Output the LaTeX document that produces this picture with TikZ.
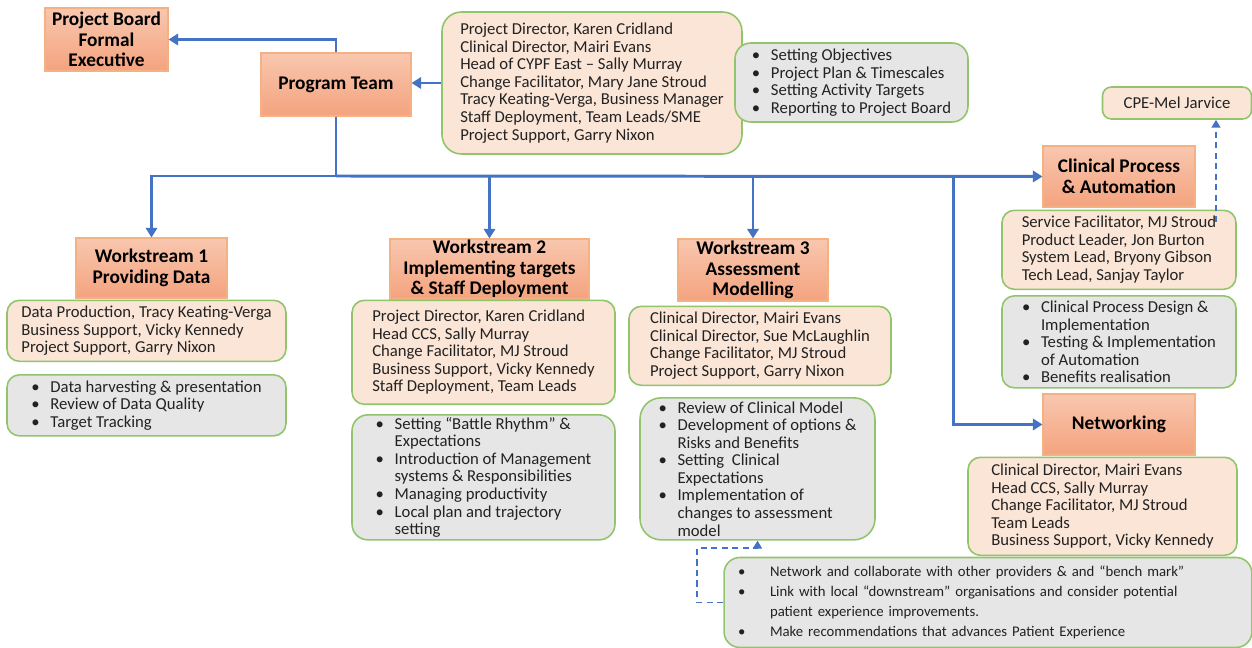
\documentclass[tikz,border=0pt]{standalone}
\usepackage{fontspec}
\setmainfont{Carlito}
\usetikzlibrary{arrows.meta, positioning}
\definecolor{linkblue}{RGB}{68,114,196}
\definecolor{headtop}{RGB}{248,199,175}
\definecolor{headbot}{RGB}{244,163,126}
\definecolor{headline}{RGB}{244,177,131}
\definecolor{staffpeach}{RGB}{251,229,214}
\definecolor{taskgray}{RGB}{231,230,230}
\definecolor{boxgreen}{RGB}{146,196,108}
\definecolor{inkgray}{RGB}{34,34,34}
\newcommand{\tbul}[1][0.38cm]{\makebox[#1][l]{\textbullet}\ignorespaces}
\newcommand{\tcont}[1][0.38cm]{\hspace*{#1}\ignorespaces}

\begin{document}
\begin{tikzpicture}[
    x=0.02cm, y=-0.02cm,
    head/.style={rectangle, draw=headline, top color=headtop, bottom color=headbot,
                 line width=0.6pt, text=black, inner ysep=0pt,
                 font=\fontsize{11}{11.8}\selectfont\bfseries, align=center},
    staff/.style={rectangle, rounded corners=7pt, draw=boxgreen, fill=staffpeach,
                  line width=0.9pt, text=inkgray, inner ysep=1pt,
                  font=\fontsize{9.5}{10}\selectfont, align=left},
    tasks/.style={staff, fill=taskgray},
    arrow/.style={-{Triangle[length=5.5pt, width=6.5pt]}, line width=1.7pt, draw=linkblue},
    dasharrow/.style={-{Triangle[length=4.5pt, width=5pt]}, line width=1.1pt,
                      draw=linkblue, dash pattern=on 3.5pt off 2.5pt}
]
    \useasboundingbox (0,0) rectangle (1252,648);

    % Top - board and program team
    \node[head, minimum width=2.46cm, minimum height=1.26cm] (board) at (106.5,39.5) {Project Board\\Formal\\Executive};
    \node[head, minimum width=3cm, minimum height=1.26cm] (progteam) at (336,84.5) {Program Team};
    \node[staff, rounded corners=11pt, minimum width=6cm, minimum height=2.84cm] (teambox) at (592,83)
        {Project Director, Karen Cridland\\Clinical Director, Mairi Evans\\Head of CYPF East – Sally Murray\\Change Facilitator, Mary Jane Stroud\\Tracy Keating-Verga, Business Manager\\Staff Deployment, Team Leads/SME\\Project Support, Garry Nixon};
    \node[tasks, rounded corners=9pt, minimum width=4.66cm, minimum height=1.58cm] (objectives) at (851.5,82.5)
        {\tbul Setting Objectives\\\tbul Project Plan \& Timescales\\\tbul Setting Activity Targets\\\tbul Reporting to Project Board};

    % Workstream 1
    \node[head, minimum width=3.02cm, minimum height=1.2cm] (ws1) at (151.5,268) {Workstream 1\\Providing Data};
    \node[staff, minimum width=5.58cm, minimum height=1.22cm, below=0.02cm of ws1, xshift=-0.1cm] (ws1staff)
        {Data Production, Tracy Keating-Verga\\Business Support, Vicky Kennedy\\Project Support, Garry Nixon};
    \node[tasks, minimum width=5.58cm, minimum height=1.22cm, below=0.24cm of ws1staff] (ws1tasks)
        {\tbul Data harvesting \& presentation\\\tbul Review of Data Quality\\\tbul Target Tracking};

    % Workstream 2
    \node[head, minimum width=3.98cm, minimum height=1.2cm] (ws2) at (489.5,269) {Workstream 2\\Implementing targets\\\& Staff Deployment};
    \node[staff, minimum width=5.26cm, minimum height=2.08cm, below=0cm of ws2, xshift=-0.12cm] (ws2staff)
        {Project Director, Karen Cridland\\Head CCS, Sally Murray\\Change Facilitator, MJ Stroud\\Business Support, Vicky Kennedy\\Staff Deployment, Team Leads};
    \node[tasks, rounded corners=9pt, minimum width=5.26cm, minimum height=2.5cm, below=0.18cm of ws2staff] (ws2tasks)
        {\tbul Setting “Battle Rhythm” \&\\\tcont Expectations\\\tbul Introduction of Management\\\tcont systems \& Responsibilities\\\tbul Managing productivity\\\tbul Local plan and trajectory\\\tcont setting};

    % Workstream 3
    \node[head, minimum width=3cm, minimum height=1.24cm] (ws3) at (753,270) {Workstream 3\\Assessment\\Modelling};
    \node[staff, minimum width=5.24cm, minimum height=1.58cm, below=0.08cm of ws3, xshift=0.14cm] (ws3staff)
        {Clinical Director, Mairi Evans\\Clinical Director, Sue McLaughlin\\Change Facilitator, MJ Stroud\\Project Support, Garry Nixon};
    \node[tasks, rounded corners=12pt, minimum width=4.7cm, minimum height=2.84cm, below=0.22cm of ws3staff, xshift=-0.05cm] (ws3tasks)
        {\tbul Review of Clinical Model\\\tbul Development of options \&\\\tcont Risks and Benefits\\\tbul Setting\ \ Clinical\\\tcont Expectations\\\tbul Implementation of\\\tcont changes to assessment\\\tcont model};

    % Clinical process
    \node[staff, rounded corners=5pt, minimum width=2.98cm, minimum height=0.64cm] (cpe) at (1177,103) {CPE-Mel Jarvice};
    \node[head, minimum width=3.04cm, minimum height=1.22cm] (cphead) at (1119,176.5) {Clinical Process\\\& Automation};
    \node[staff, minimum width=4.68cm, minimum height=1.58cm, below=0.04cm of cphead] (cpstaff)
        {Service Facilitator, MJ Stroud\\Product Leader, Jon Burton\\System Lead, Bryony Gibson\\Tech Lead, Sanjay Taylor};
    \node[tasks, minimum width=4.68cm, minimum height=1.84cm, below=0.1cm of cpstaff] (cptasks)
        {\tbul Clinical Process Design \&\\\tcont Implementation\\\tbul Testing \& Implementation\\\tcont of Automation\\\tbul Benefits realisation};

    % Networking
    \node[head, minimum width=3.04cm, minimum height=1.22cm] (nethead) at (1119,424.5) {Networking};
    \node[staff, minimum width=5.38cm, minimum height=1.96cm, below=0.02cm of nethead, xshift=-0.33cm] (netstaff)
        {Clinical Director, Mairi Evans\\Head CCS, Sally Murray\\Change Facilitator, MJ Stroud\\Team Leads\\Business Support, Vicky Kennedy};
    \node[tasks, rounded corners=9pt, text width=10cm, inner xsep=0.28cm, minimum height=1.8cm,
          font=\fontsize{8.4}{11.4}\selectfont] (nettasks) at (988,602.5)
        {\tbul[0.64cm] Network and collaborate with other providers \& and “bench mark”\\\tbul[0.64cm] Link with local “downstream” organisations and consider potential\\\tcont[0.64cm] patient experience improvements.\\\tbul[0.64cm] Make recommendations that advances Patient Experience};

    % Arrows
    \coordinate (hub) at (336,176);
    \coordinate (netsplit) at (953,176);
    \coordinate (cpdash) at (1216,222);
    \coordinate (netbend) at (697,548);

    \draw[arrow] (progteam.north) |- (board.east);
    \draw[arrow] (teambox.west) -- (teambox.west -| progteam.east);
    \draw[arrow] (progteam.south) -- (hub) -| (ws1.north);
    \draw[arrow] (hub) -| (ws2.north);
    \draw[arrow] (hub) -| (ws3.north);
    \draw[arrow] (hub) -- (cphead.west);
    \draw[arrow] (netsplit) |- (nethead.west);

    \draw[dasharrow] (cpdash) -- (cpdash |- cpe.south);
    \draw[dasharrow] (nettasks.west) -| (netbend) -| (ws3tasks.south);
\end{tikzpicture}
\end{document}
